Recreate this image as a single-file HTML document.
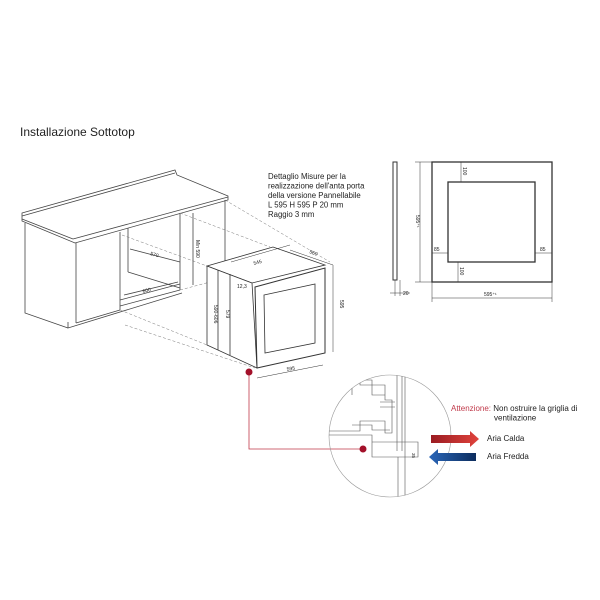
<!DOCTYPE html>
<html><head><meta charset="utf-8"><style>
html,body{margin:0;padding:0;background:#fff;width:600px;height:600px;overflow:hidden}
svg{display:block}
text{font-family:"Liberation Sans",sans-serif;fill:#222}
</style></head><body>
<svg width="600" height="600" viewBox="0 0 600 600" xmlns="http://www.w3.org/2000/svg">
<defs>
<linearGradient id="rg" x1="0" x2="1"><stop offset="0" stop-color="#9b1c22"/><stop offset="1" stop-color="#e0433c"/></linearGradient>
<linearGradient id="bg" x1="0" x2="1"><stop offset="0" stop-color="#2a66b8"/><stop offset="1" stop-color="#0d2d5e"/></linearGradient>
<clipPath id="cc"><circle cx="390" cy="436" r="61"/></clipPath>
</defs>
<text x="20" y="136" font-size="12" fill="#333">Installazione Sottotop</text>

<g fill="none" stroke="#444" stroke-width="0.8">
<polygon points="22,213 175,170 177,175 228,196 228,200 75,243 22,221" fill="#fff"/>
<line x1="22" y1="216" x2="175" y2="173"/>
<line x1="22" y1="219" x2="73" y2="239"/>
<line x1="73" y1="239" x2="228" y2="197"/>
<polyline points="25,223 25,313 68,328"/>
<line x1="76" y1="243" x2="76" y2="323"/>
<polyline points="68,322 68,328 182,293"/>
<line x1="76" y1="323" x2="120" y2="310"/>
<line x1="120" y1="232" x2="120" y2="310"/>
<line x1="128" y1="228" x2="128" y2="272"/>
<line x1="180" y1="213" x2="180" y2="290"/>
<line x1="225" y1="200" x2="225" y2="265"/>
<line x1="128" y1="272" x2="180" y2="288"/>
<line x1="120" y1="300" x2="180" y2="284"/>
<line x1="120" y1="306" x2="180" y2="290"/>
<g stroke-dasharray="3,2" stroke="#777" stroke-width="0.5">
<line x1="122" y1="235" x2="207" y2="266"/>
<line x1="180" y1="213" x2="270" y2="247"/>
<line x1="225" y1="200" x2="330" y2="262"/>
<line x1="120" y1="310" x2="207" y2="345"/>
<line x1="125" y1="325" x2="255" y2="368"/>
<line x1="180" y1="290" x2="210" y2="282"/>
</g>
<line x1="130" y1="249" x2="180" y2="262"/>
<line x1="124" y1="295" x2="178" y2="282"/>
<line x1="193" y1="213" x2="193" y2="285"/>
</g>
<g font-size="5" fill="#444">
<text x="150" y="255" transform="rotate(15 150 255)">570</text>
<text x="143" y="293" transform="rotate(-14 143 293)">600</text>
<text x="196" y="240" transform="rotate(90 196 240)">Min 590</text>
</g>

<g fill="none" stroke="#333" stroke-width="0.8">
<polygon points="207,266 273,247 325,265 252,283" fill="#fff"/>
<polygon points="207,266 252,283 257,368 207,345" fill="#fff"/>
<line x1="218" y1="270" x2="218" y2="350"/>
<line x1="230" y1="274" x2="230" y2="355"/>
<polygon points="255,287 325,268 325,353 257,368" fill="#fff" stroke-width="1"/>
<polygon points="264,295 315,284 315,343 265,353"/>
<line x1="333" y1="265" x2="333" y2="352" stroke-width="0.5"/>
<line x1="257" y1="378" x2="323" y2="365" stroke-width="0.5"/>
<line x1="231" y1="262" x2="290" y2="245" stroke-width="0.5"/>
<line x1="290" y1="250" x2="333" y2="265" stroke-width="0.5"/>
</g>
<g font-size="5" fill="#444">
<text x="254" y="265" transform="rotate(-15 254 265)">545</text>
<text x="309" y="253" transform="rotate(20 309 253)">560</text>
<text x="340" y="300" transform="rotate(90 340 300)">595</text>
<text x="287" y="371" transform="rotate(-10 287 371)">595</text>
<text x="237" y="288">12,3</text>
<text x="214" y="305" transform="rotate(90 214 305)">590-606</text>
<text x="226" y="310" transform="rotate(90 226 310)">579</text>
</g>

<polyline points="249,372 249,449 363,449" fill="none" stroke="#c0394a" stroke-width="0.8"/>
<circle cx="249" cy="372" r="3.5" fill="#a3102a"/>
<circle cx="363" cy="449" r="3.5" fill="#a3102a"/>

<circle cx="390" cy="436" r="61" fill="none" stroke="#999" stroke-width="0.6"/>
<g clip-path="url(#cc)" fill="none" stroke="#555" stroke-width="0.6">
<line x1="397" y1="370" x2="397" y2="451"/>
<line x1="402" y1="370" x2="402" y2="451"/>
<line x1="405" y1="370" x2="405" y2="500"/>
<line x1="398" y1="457" x2="398" y2="500"/>
<polyline points="320,435 372,435 372,457 418,457 418,442 372,442"/>
<polyline points="320,431 360,431 360,421 385,421 385,433 392,433 392,400 385,400 385,385 360,385 360,375"/>
<polyline points="352,395 352,380 372,380 372,395 385,395"/>
<polyline points="352,425 372,425 372,430 390,430"/>
<line x1="380" y1="402" x2="395" y2="402"/>
<line x1="380" y1="407" x2="395" y2="407"/>
</g>
<text x="412" y="453" font-size="4.5" transform="rotate(90 412 453)" fill="#444">35</text>

<text x="451" y="411" font-size="8"><tspan fill="#c0394a">Attenzione:</tspan> Non ostruire la griglia di</text>
<text x="494" y="420.5" font-size="8">ventilazione</text>
<polygon points="431,435 470,435 470,431 479,439 470,447 470,443 431,443" fill="url(#rg)"/>
<polygon points="476,453 438,453 438,449 429,457 438,465 438,461 476,461" fill="url(#bg)"/>
<text x="487" y="441" font-size="8">Aria Calda</text>
<text x="487" y="459" font-size="8">Aria Fredda</text>

<g font-size="7.8" fill="#222">
<text x="268" y="179">Dettaglio Misure per la</text>
<text x="268" y="188.5">realizzazione dell'anta porta</text>
<text x="268" y="198">della versione Pannellabile</text>
<text x="268" y="207.5">L 595 H 595 P 20 mm</text>
<text x="268" y="217">Raggio 3 mm</text>
</g>

<g fill="none" stroke="#333">
<rect x="393" y="162" width="4" height="118" stroke-width="1"/>
<rect x="432" y="162" width="120" height="120" stroke-width="1.3"/>
<rect x="448" y="182" width="87" height="80" stroke-width="1.3"/>
<g stroke-width="0.5">
<line x1="395" y1="280" x2="395" y2="296"/><line x1="400" y1="280" x2="400" y2="296"/>
<line x1="390" y1="293" x2="410" y2="293"/>
<line x1="420" y1="162" x2="420" y2="282"/>
<line x1="415" y1="162" x2="432" y2="162"/><line x1="415" y1="282" x2="432" y2="282"/>
<line x1="432" y1="282" x2="432" y2="302"/><line x1="552" y1="282" x2="552" y2="302"/>
<line x1="432" y1="298" x2="552" y2="298"/>
<line x1="461" y1="162" x2="461" y2="182"/>
<line x1="458" y1="262" x2="458" y2="282"/>
<line x1="432" y1="253" x2="448" y2="253"/>
<line x1="535" y1="253" x2="552" y2="253"/>
</g></g>
<g font-size="5" fill="#333">
<text x="463" y="167" transform="rotate(90 463 167)">100</text>
<text x="460" y="267" transform="rotate(90 460 267)">100</text>
<text x="434" y="251">85</text>
<text x="540" y="251">85</text>
<text x="416" y="215" transform="rotate(90 416 215)">595⁺¹</text>
<text x="484" y="296">595⁺¹</text>
<text x="403" y="295">20</text>
</g>
</svg>
</body></html>
